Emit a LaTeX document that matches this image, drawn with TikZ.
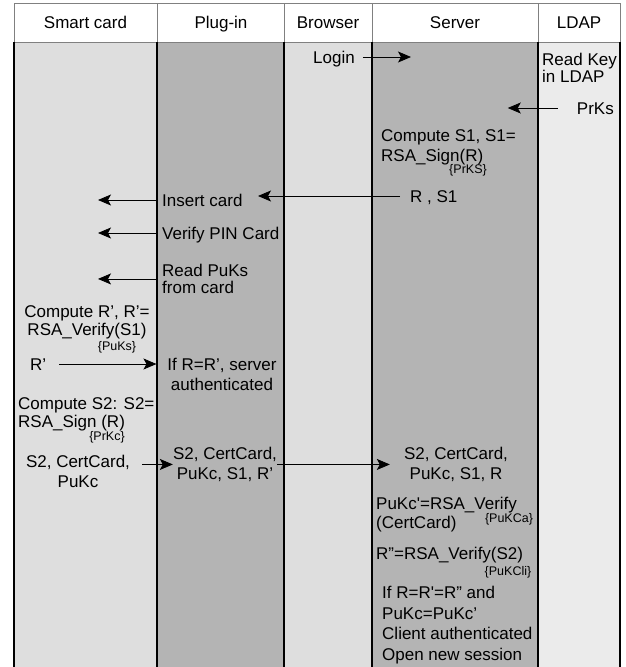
\documentclass[tikz,border=0pt]{standalone}
\usepackage{fontspec}
\setmainfont{Liberation Sans}
\usepackage{tikz}
\usetikzlibrary{shapes,arrows,arrows.meta}

\definecolor{laneLight}{RGB}{222,222,222}
\definecolor{laneDark}{RGB}{180,180,180}
\definecolor{laneLdap}{RGB}{235,235,235}

\begin{document}
\begin{tikzpicture}[x=1pt,y=-1pt]
\tikzstyle{head} = [font=\fontsize{17}{19}\selectfont,text height=12.2pt,text depth=0pt,inner sep=0pt];
\tikzstyle{lbl} = [head,anchor=west];
\tikzstyle{blk} = [font=\fontsize{17}{20}\selectfont,inner sep=0pt,anchor=north west,align=left];
\tikzstyle{sub} = [font=\fontsize{12.5}{13}\selectfont,inner sep=0pt];
\tikzstyle{msg} = [-{Stealth[length=13pt,width=11pt,inset=3pt]},line width=0.8pt];
\tikzstyle{lane} = [line width=1.2pt];
\tikzstyle{hdr} = [line width=0.8pt,draw=gray];
\useasboundingbox (0,0) rectangle (626,667);
\fill[white] (0,0) rectangle (626,667);

\fill[laneLight] (14,42) rectangle (157,667);
\fill[laneDark] (157,42) rectangle (284,667);
\fill[laneLight] (284,42) rectangle (372,667);
\fill[laneDark] (372,42) rectangle (538,667);
\fill[laneLdap] (538,42) rectangle (620,667);
\draw[hdr] (14,3) rectangle (620,42);
\draw[hdr] (157,3) -- (157,42) (284,3) -- (284,42) (372,3) -- (372,42) (538,3) -- (538,42);
\draw[lane] (14,42) -- (14,667) (157,42) -- (157,667) (284,42) -- (284,667);
\draw[lane] (372,42) -- (372,667) (538,42) -- (538,667) (620,42) -- (620,667);

\node[head] (scard) at (85.5,22.5) {Smart card};
\node[head] (plugin) at (221,22.5) {Plug-in};
\node[head] (browser) at (328,22.5) {Browser};
\node[head] (server) at (455,22.5) {Server};
\node[head] (ldap) at (579,22.5) {LDAP};

% server side
\node[lbl] (login) at (313,57) {Login};
\coordinate (srvLogin) at (411,57);
\draw[msg] ([xshift=8pt]login.east) -- (srvLogin);
\node[blk,font=\fontsize{17}{16.5}\selectfont] (readkey) at (542,53) {Read Key\\in LDAP};
\node[head,anchor=east] (prks) at (614,108) {PrKs};
\coordinate (srvPrks) at ([xshift=-69pt]prks.west);
\draw[msg] ([xshift=-19pt]prks.west) -- (srvPrks);
\node[blk] (comp1) at (381,129) {Compute S1, S1=\\RSA\_Sign(R)};
\node[sub] (prkS) at (468,170) {\{PrKS\}};
\node[lbl] (rs1) at (410,196) {R , S1};
\coordinate (plR) at (258,196);
\draw[msg] ([xshift=-10pt]rs1.west) -- (plR);

% plug-in to card
\node[lbl] (inscard) at (162,200) {Insert card};
\coordinate (scIns) at ([xshift=-64pt]inscard.west);
\draw[msg] ([xshift=-5pt]inscard.west) -- (scIns);
\node[lbl] (verpin) at (162,233) {Verify PIN Card};
\coordinate (scPin) at ([xshift=-64pt]verpin.west);
\draw[msg] ([xshift=-5pt]verpin.west) -- (scPin);
\node[blk,font=\fontsize{17}{17}\selectfont] (readpuks) at (162,264) {Read PuKs\\from card};
\coordinate (scPuks) at ([xshift=-64pt]readpuks.west);
\draw[msg] ([xshift=-5pt]readpuks.west) -- (scPuks);

% card
\node[blk,font=\fontsize{17}{18}\selectfont,anchor=north,align=center] (compR) at (87,305) {Compute R', R'=\\RSA\_Verify(S1)};
\node[sub] (puks) at (117,347) {\{PuKs\}};
\node[lbl] (rprime) at (30,364) {R'};
\coordinate (plRp) at ([xshift=110pt]rprime.east);
\draw[msg] ([xshift=13pt]rprime.east) -- (plRp);
\node[blk,anchor=north,align=center] (ifserv) at (222,358) {If R=R', server\\authenticated};
\node[blk,font=\fontsize{17}{18}\selectfont] (compS2) at (18,397) {Compute S2: S2=\\RSA\_Sign (R)};
\node[sub] (prkc) at (107,437) {\{PrKc\}};

\node[blk,anchor=north,align=center] (scmsg) at (78,455) {S2, CertCard,\\PuKc};
\node[blk,anchor=north,align=center] (plmsg) at (225,447) {S2, CertCard,\\PuKc, S1, R'};
\node[blk,anchor=north,align=center] (srvmsg) at (456,447) {S2, CertCard,\\PuKc, S1, R};
\draw[msg,shorten <=12pt] (scmsg.east |- plmsg.west) -- (plmsg.west);
\draw[msg,shorten >=14pt] (plmsg.east) -- (srvmsg.west);

% server checks
\node[blk,font=\fontsize{17}{19}\selectfont] (verify1) at (376,497) {PuKc\textquotesingle=RSA\_Verify\\(CertCard)};
\node[sub] (pukca) at (509,519) {\{PuKCa\}};
\node[lbl] (verify2) at (376,553) {R''=RSA\_Verify(S2)};
\node[sub] (pukcli) at (508,572) {\{PuKCli\}};
\node[blk,font=\fontsize{17}{20.5}\selectfont] (final) at (382,586) {If R=R\textquotesingle=R'' and\\PuKc=PuKc'\\Client authenticated\\Open new session};

\end{tikzpicture}
\end{document}
